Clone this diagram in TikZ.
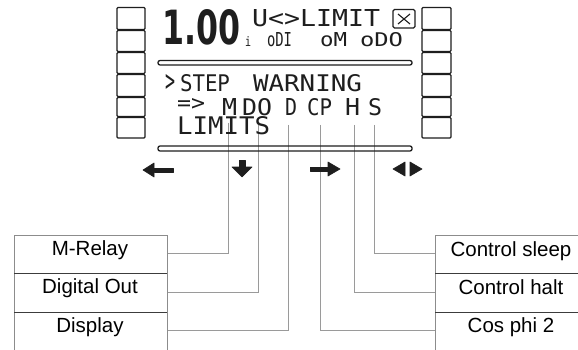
\documentclass[tikz,border=0pt]{standalone}
\usepackage{fontspec}
\usepackage{graphicx}
\setmainfont{Liberation Sans}
\newfontfamily\lcdfont{DejaVu Sans Mono}
\newfontfamily\bigdigits{DejaVu Sans}
\definecolor{ink}{HTML}{1E1E1E}
\definecolor{wire}{HTML}{9A9A9A}
\definecolor{frame}{HTML}{8C8C8C}
\definecolor{divider}{HTML}{3C3C3C}
\tikzset{
  lcd/.style={inner sep=0pt, outer sep=0pt, text=ink, anchor=base west, font=\lcdfont},
  lbl/.style={inner sep=0pt, anchor=base, text=black, font=\fontsize{20.5}{22}\selectfont},
  keybox/.style={draw=ink, line width=1.4pt, rounded corners=1pt},
  wireline/.style={draw=wire, line width=0.9pt},
  glyph/.style={fill=ink, draw=ink, line width=0.6pt, line join=round},
  rail/.style={draw=ink, line width=1.3pt, rounded corners=2pt},
  frameline/.style={draw=frame, line width=0.9pt},
  divline/.style={draw=divider, line width=1pt},
}
\begin{document}
\begin{tikzpicture}[x=1pt,y=-1pt]
\useasboundingbox[fill=white] (0,0) rectangle (578,350);

% soft keys
\foreach \t/\b in {7.5/29.5, 30.5/51.5, 52.5/73.5, 74.5/96.5, 97.5/116.5, 117.5/138}{
  \draw[keybox] (117,\t) rectangle (145,\b);
  \draw[keybox] (422,\t) rectangle (451,\b);
}

% wires (drawn first)
\coordinate (tM)  at (228,123);
\coordinate (tDO) at (258,125);
\coordinate (tD)  at (288,125);
\coordinate (tCP) at (320,125);
\coordinate (tH)  at (354,125);
\coordinate (tS)  at (374,125);
\coordinate (pMR) at (167,253);
\coordinate (pDO) at (167,292);
\coordinate (pDI) at (167,330);
\coordinate (pCS) at (435,253);
\coordinate (pCH) at (435,292);
\coordinate (pCP) at (435,330);
\draw[wireline] (tM)  |- (pMR);
\draw[wireline] (tDO) |- (pDO);
\draw[wireline] (tD)  |- (pDI);
\draw[wireline] (tS)  |- (pCS);
\draw[wireline] (tH)  |- (pCH);
\draw[wireline] (tCP) |- (pCP);

% display content
\node[inner sep=0pt, outer sep=0pt, anchor=base west, text=ink] (reading) at (162,45)
  {\resizebox{78pt}{35pt}{\bigdigits\bfseries 1.00}};
\node[lcd] (unit) at (245,47) {\resizebox{6pt}{10pt}{i}};
\node[lcd] (status) at (252,27) {\resizebox{128pt}{17pt}{U<>LIMIT}};
\draw[ink, line width=1.2pt, rounded corners=1.5pt] (393,9.5) rectangle (415,28);
\draw[ink, line width=1.1pt] (398,14) -- (410,24) (410,14) -- (398,24);
\node[lcd] (odi) at (267,47) {\resizebox{25pt}{14pt}{oDI}};
\node[lcd] (om)  at (320,47) {\resizebox{27pt}{14pt}{oM}};
\node[lcd] (odo) at (360,47) {\resizebox{43pt}{14pt}{oDO}};

\draw[rail] (158,60.5) rectangle (412,65);

\node[lcd] (cursor) at (165,92) {\resizebox{10pt}{17pt}{>}};
\node[lcd] (step) at (180,92) {\resizebox{50pt}{17pt}{STEP}};
\node[lcd] (warning) at (253,92) {\resizebox{109pt}{17pt}{WARNING}};

\node[lcd] (arrowtxt) at (177,111) {\resizebox{28pt}{12pt}{=>}};
\node[lcd] (M)  at (222,115) {\resizebox{15pt}{17pt}{M}};
\node[lcd] (DO) at (242,115) {\resizebox{30pt}{17pt}{DO}};
\node[lcd] (D)  at (285,115) {\resizebox{12pt}{17pt}{D}};
\node[lcd] (CP) at (307,115) {\resizebox{25pt}{17pt}{CP}};
\node[lcd] (H)  at (345,115) {\resizebox{15pt}{17pt}{H}};
\node[lcd] (S)  at (368,115) {\resizebox{14pt}{17pt}{S}};

\node[lcd] (limits) at (177,135) {\resizebox{93pt}{18pt}{LIMITS}};

\draw[rail] (158,146) rectangle (412,151);

% arrow glyphs
\filldraw[glyph] (143,170) -- (154,163) -- (154,177) -- cycle;
\filldraw[glyph] (154,168) rectangle (173,172);
\filldraw[glyph] (239,160) rectangle (245,168);
\filldraw[glyph] (232,167) -- (252,167) -- (242,177) -- cycle;
\filldraw[glyph] (310,167.5) rectangle (328,171);
\filldraw[glyph] (328,162) -- (340,169) -- (328,176) -- cycle;
\filldraw[glyph] (393,169) -- (405,162) -- (405,176) -- cycle;
\filldraw[glyph] (410,162) -- (422,169) -- (410,176) -- cycle;

% left label column
\draw[frameline] (14,351) -- (14,235) -- (167,235) -- (167,351);
\draw[divline] (14,273) -- (167,273);
\draw[divline] (14,312) -- (167,312);
\node[lbl] (mrelay)  at (90,255) {M-Relay};
\node[lbl] (digout)  at (90,293) {Digital Out};
\node[lbl] (display) at (90,332) {Display};

% right label column
\draw[frameline] (579,235) -- (435,235) -- (435,351);
\draw[divline] (435,273) -- (579,273);
\draw[divline] (435,312) -- (579,312);
\node[lbl] (csleep) at (511,256) {Control sleep};
\node[lbl] (chalt)  at (511,294) {Control halt};
\node[lbl] (cosphi) at (511,332) {Cos phi 2};
\end{tikzpicture}
\end{document}
